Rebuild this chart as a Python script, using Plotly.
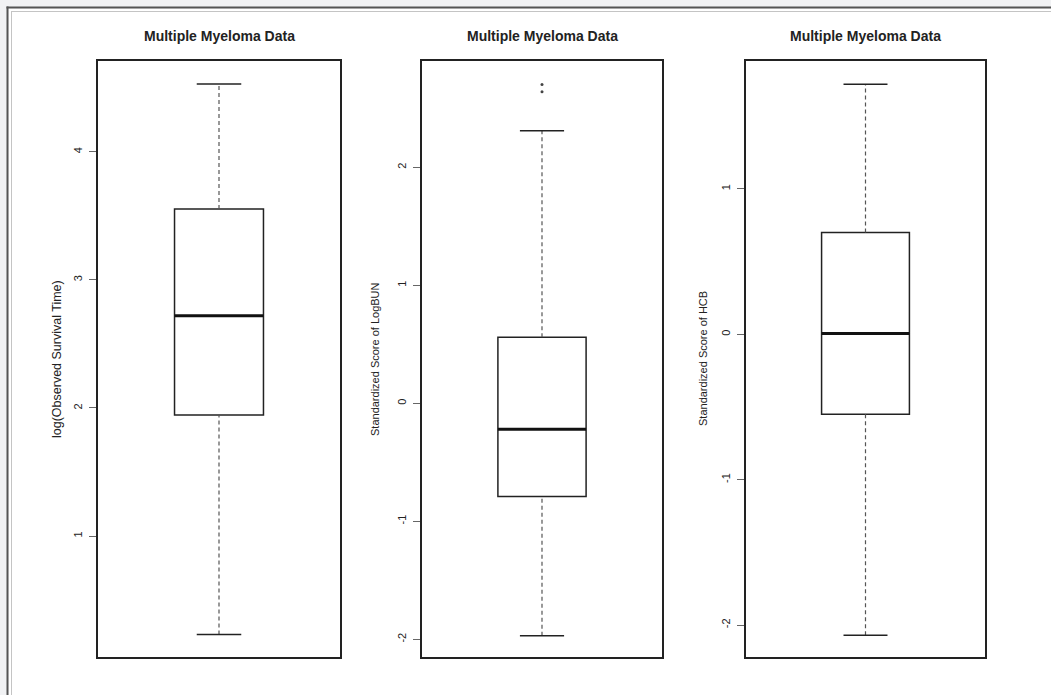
import plotly.graph_objects as go

W, H = 1051, 695

# ---- data ----
titles = ["Multiple Myeloma Data", "Multiple Myeloma Data", "Multiple Myeloma Data"]
ylabels = ["log(Observed Survival Time)", "Standardized Score of LogBUN", "Standardized Score of HCB"]
lower_whisker = [0.23, -1.97, -2.07]
q1_vals = [1.945, -0.79, -0.55]
median_vals = [2.72, -0.22, 0.005]
q3_vals = [3.555, 0.56, 0.70]
upper_whisker = [4.53, 2.31, 1.72]
outliers = [[], [2.70, 2.64], []]
tick_vals = [[1, 2, 3, 4], [-2, -1, 0, 1, 2], [-2, -1, 0, 1]]
tick_text = [["1", "2", "3", "4"], ["-2", "-1", "0", "1", "2"], ["-2", "-1", "0", "1"]]
y_ranges = [[0.055, 4.71], [-2.15, 2.90], [-2.22, 1.88]]

# ---- layout geometry (pixels) ----
panel_x = [(98, 340), (422, 662), (746, 985)]
panel_y = (61, 657)
label_x = [57, 375, 703]
label_size = [12.5, 11, 11]

BOX_W = 0.735
CAP_HALF = 0.184

fig = go.Figure()
layout = dict(
    width=W, height=H,
    margin=dict(l=0, r=0, t=0, b=0),
    paper_bgcolor="#f1f2f4",
    plot_bgcolor="white",
    showlegend=False,
    font=dict(family="Liberation Sans, Arial, sans-serif", color="#222"),
)

shapes = [
    dict(type="rect", xref="paper", yref="paper", x0=8.5 / W, x1=1.02, y0=-0.02, y1=1 - 8.5 / H,
         fillcolor="white", line=dict(width=0), layer="below"),
    dict(type="line", xref="paper", yref="paper", x0=7.5 / W, x1=7.5 / W, y0=-0.02, y1=1 - 6.5 / H,
         line=dict(color="#555", width=2)),
    dict(type="line", xref="paper", yref="paper", x0=6.5 / W, x1=1.02, y0=1 - 7.5 / H, y1=1 - 7.5 / H,
         line=dict(color="#555", width=2)),
    dict(type="line", xref="paper", yref="paper", x0=11.5 / W, x1=11.5 / W, y0=-0.02, y1=1 - 11 / H,
         line=dict(color="#c4c4c4", width=1)),
    dict(type="line", xref="paper", yref="paper", x0=11 / W, x1=1.02, y0=1 - 11.5 / H, y1=1 - 11.5 / H,
         line=dict(color="#c4c4c4", width=1)),
]
annotations = []

for i in range(3):
    xa = "x" if i == 0 else f"x{i+1}"
    ya = "y" if i == 0 else f"y{i+1}"
    xkey = "xaxis" if i == 0 else f"xaxis{i+1}"
    ykey = "yaxis" if i == 0 else f"yaxis{i+1}"
    x0p, x1p = panel_x[i]
    layout[xkey] = dict(
        domain=[x0p / W, x1p / W], range=[-1, 1], anchor=ya,
        showline=True, mirror=True, linecolor="#222", linewidth=1.5,
        showticklabels=False, ticks="", showgrid=False, zeroline=False, fixedrange=True,
    )
    layout[ykey] = dict(
        domain=[1 - panel_y[1] / H, 1 - panel_y[0] / H], range=y_ranges[i], anchor=xa,
        showline=True, mirror=True, linecolor="#222", linewidth=1.5,
        ticks="outside", ticklen=7, tickcolor="#666", tickwidth=1,
        tickvals=tick_vals[i], ticktext=tick_text[i], tickangle=-90,
        tickfont=dict(size=11, color="#222"), ticklabelstandoff=3,
        showgrid=False, zeroline=False, automargin=False,
    )

    # box body
    fig.add_trace(go.Box(
        x=[0], q1=[q1_vals[i]], median=[median_vals[i]], q3=[q3_vals[i]],
        lowerfence=[q1_vals[i]], upperfence=[q3_vals[i]],
        width=BOX_W, fillcolor="white", line=dict(color="#222", width=1.5),
        boxpoints=False, xaxis=xa, yaxis=ya, hoverinfo="skip",
    ))
    # whiskers (dashed)
    for a, b in [(q3_vals[i], upper_whisker[i]), (lower_whisker[i], q1_vals[i])]:
        fig.add_trace(go.Scatter(
            x=[0, 0], y=[a, b], mode="lines",
            line=dict(color="#555", width=1.2, dash="4px,3px"),
            xaxis=xa, yaxis=ya, hoverinfo="skip",
        ))
    # caps
    for v in [upper_whisker[i], lower_whisker[i]]:
        fig.add_trace(go.Scatter(
            x=[-CAP_HALF, CAP_HALF], y=[v, v], mode="lines",
            line=dict(color="#222", width=1.5), xaxis=xa, yaxis=ya, hoverinfo="skip",
        ))
    # median (thick)
    fig.add_trace(go.Scatter(
        x=[-BOX_W / 2, BOX_W / 2], y=[median_vals[i], median_vals[i]], mode="lines",
        line=dict(color="#111", width=3), xaxis=xa, yaxis=ya, hoverinfo="skip",
    ))
    # outliers
    if outliers[i]:
        fig.add_trace(go.Scatter(
            x=[0] * len(outliers[i]), y=outliers[i], mode="markers",
            marker=dict(color="#444", size=3), xaxis=xa, yaxis=ya, hoverinfo="skip",
        ))

    cx = (x0p + x1p) / 2 / W
    annotations.append(dict(
        text="<b>" + titles[i] + "</b>", xref="paper", yref="paper", x=cx, y=1 - 36 / H,
        xanchor="center", yanchor="middle", showarrow=False,
        font=dict(size=14, color="#222"),
    ))
    annotations.append(dict(
        text=ylabels[i], xref="paper", yref="paper", x=label_x[i] / W,
        y=1 - (panel_y[0] + panel_y[1]) / 2 / H, textangle=-90,
        xanchor="center", yanchor="middle", showarrow=False,
        font=dict(size=label_size[i], color="#222"),
    ))

layout["shapes"] = shapes
layout["annotations"] = annotations
fig.update_layout(**layout)
fig.write_html("out.html", config={"displayModeBar": False},
               post_script="document.body.style.margin='0';")
